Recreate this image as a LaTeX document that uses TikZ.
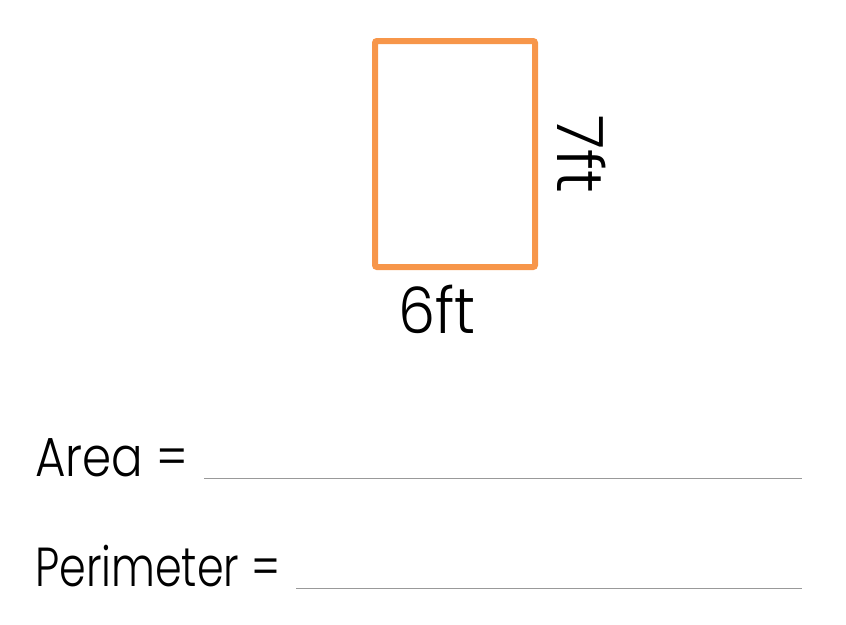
\documentclass[tikz,border=0pt]{standalone}
\usepackage{fontspec}
\setmainfont{Poppins}[UprightFont=* Light]
\begin{document}
\begin{tikzpicture}[x=1pt,y=-1pt,
  lbl/.style={inner sep=0pt,font=\fontsize{55}{60}\selectfont},
  dim/.style={inner sep=0pt,font=\fontsize{64}{70}\selectfont},
  blank/.style={draw=gray!80,line width=1pt}]
\useasboundingbox (0,0) rectangle (846,624);
\node[draw={rgb,255:red,247;green,150;blue,74},line width=6pt,rounded corners=2pt,
  minimum width=160pt,minimum height=226pt,inner sep=0pt] (rect) at (455,154) {};
\node[dim,anchor=base,transform shape,xscale=0.92] (w) at (437,333) {6ft};
\node[dim,rotate=-90,anchor=base] (h) at (557,154) {7ft};
\node[lbl,anchor=base west,transform shape,xscale=0.85] (area) at (35,476) {Area =};
\node[lbl,anchor=base west,transform shape,xscale=0.78] (per) at (35,586) {Perimeter =};
\coordinate (a1) at (204,478); \coordinate (a2) at (802,478);
\coordinate (p1) at (296,588); \coordinate (p2) at (802,588);
\draw[blank] (a1) -- (a2);
\draw[blank] (p1) -- (p2);
\end{tikzpicture}
\end{document}
